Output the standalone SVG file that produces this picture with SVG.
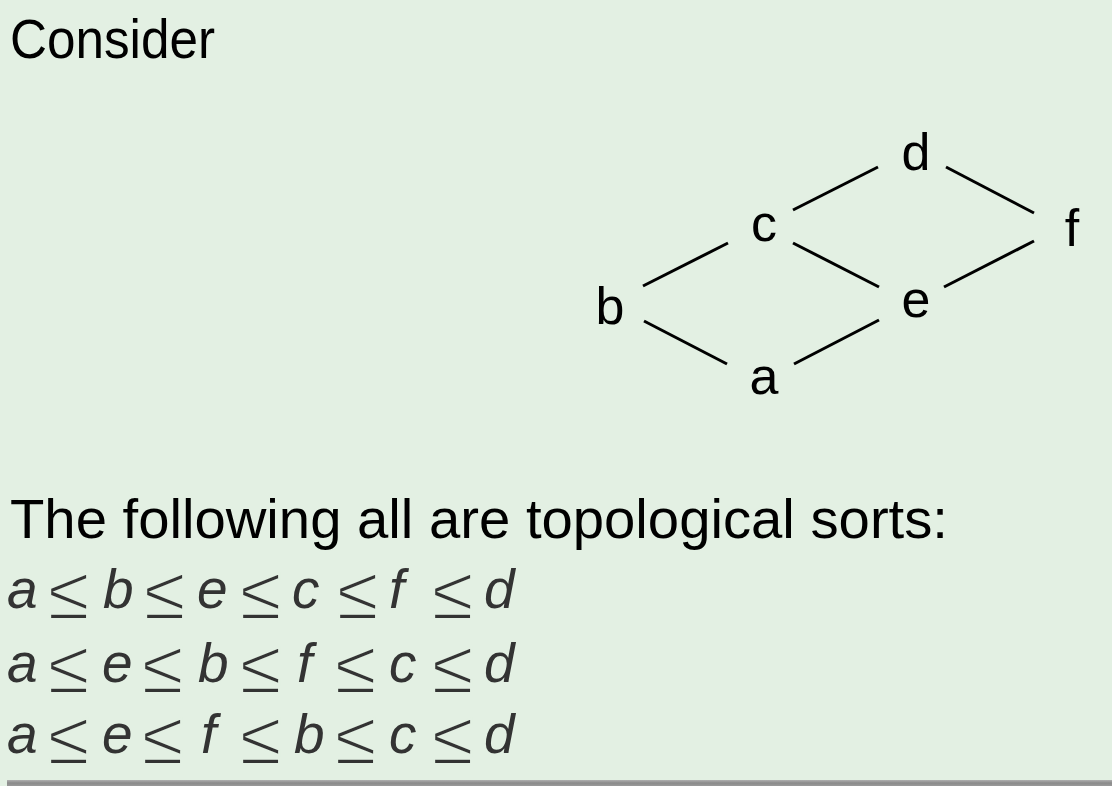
<svg xmlns="http://www.w3.org/2000/svg" width="1112" height="786" viewBox="0 0 1112 786">
<defs>
<style>
.t{font-family:"Liberation Sans","DejaVu Sans",sans-serif;font-size:56px;fill:#000}
.n{font-family:"Liberation Sans","DejaVu Sans",sans-serif;font-size:52px;fill:#000;text-anchor:middle}
.m{font-family:"Liberation Sans","DejaVu Sans",sans-serif;font-size:55px;font-style:italic;fill:#333}
.le{font-family:"Liberation Sans","DejaVu Sans",sans-serif;font-size:76px;fill:#333;stroke:#e3f0e3;stroke-width:2}
.e{stroke:#000;stroke-width:3;fill:none}
</style>
<linearGradient id="sh" x1="0" y1="0" x2="0" y2="1">
<stop offset="0" stop-color="#b0b0b0"/>
<stop offset="0.5" stop-color="#8a8a8a"/>
<stop offset="1" stop-color="#9a9a9a"/>
</linearGradient>
</defs>
<rect width="1112" height="786" fill="#e3f0e3"/>
<rect x="7" y="780" width="1105" height="6" fill="url(#sh)"/>
<text class="t" x="10" y="58" textLength="205" lengthAdjust="spacingAndGlyphs">Consider</text>
<g id="edges">
<line class="e" x1="643" y1="286" x2="728" y2="243"/>
<line class="e" x1="644" y1="321" x2="727" y2="364"/>
<line class="e" x1="794" y1="364" x2="879" y2="320"/>
<line class="e" x1="793" y1="243" x2="879" y2="287"/>
<line class="e" x1="793" y1="210" x2="878" y2="167"/>
<line class="e" x1="946" y1="167" x2="1034" y2="213"/>
<line class="e" x1="944" y1="287" x2="1034" y2="241"/>
</g>
<g id="node-d"><text class="n" x="916" y="170">d</text></g>
<g id="node-c"><text class="n" x="764" y="241">c</text></g>
<g id="node-f"><text class="n" x="1072" y="246">f</text></g>
<g id="node-b"><text class="n" x="610" y="324">b</text></g>
<g id="node-e"><text class="n" x="916" y="317">e</text></g>
<g id="node-a"><text class="n" x="764" y="394">a</text></g>
<text class="t" x="10" y="538" textLength="938" lengthAdjust="spacingAndGlyphs">The following all are topological sorts:</text>
<g id="row1">
<text class="m" x="7" y="608">a</text><text class="le" x="48" y="619">≤</text>
<text class="m" x="103" y="608">b</text><text class="le" x="144" y="619">≤</text>
<text class="m" x="197" y="608">e</text><text class="le" x="240" y="619">≤</text>
<text class="m" x="292" y="608">c</text><text class="le" x="337" y="619">≤</text>
<text class="m" x="389" y="608">f</text><text class="le" x="432" y="619">≤</text>
<text class="m" x="484" y="608">d</text>
</g>
<g id="row2">
<text class="m" x="7" y="682">a</text><text class="le" x="48" y="693">≤</text>
<text class="m" x="102" y="682">e</text><text class="le" x="142" y="693">≤</text>
<text class="m" x="198" y="682">b</text><text class="le" x="240" y="693">≤</text>
<text class="m" x="297" y="682">f</text><text class="le" x="335" y="693">≤</text>
<text class="m" x="389" y="682">c</text><text class="le" x="432" y="693">≤</text>
<text class="m" x="484" y="682">d</text>
</g>
<g id="row3">
<text class="m" x="7" y="753">a</text><text class="le" x="48" y="764">≤</text>
<text class="m" x="102" y="753">e</text><text class="le" x="142" y="764">≤</text>
<text class="m" x="201" y="753">f</text><text class="le" x="240" y="764">≤</text>
<text class="m" x="294" y="753">b</text><text class="le" x="335" y="764">≤</text>
<text class="m" x="389" y="753">c</text><text class="le" x="432" y="764">≤</text>
<text class="m" x="484" y="753">d</text>
</g>
</svg>
